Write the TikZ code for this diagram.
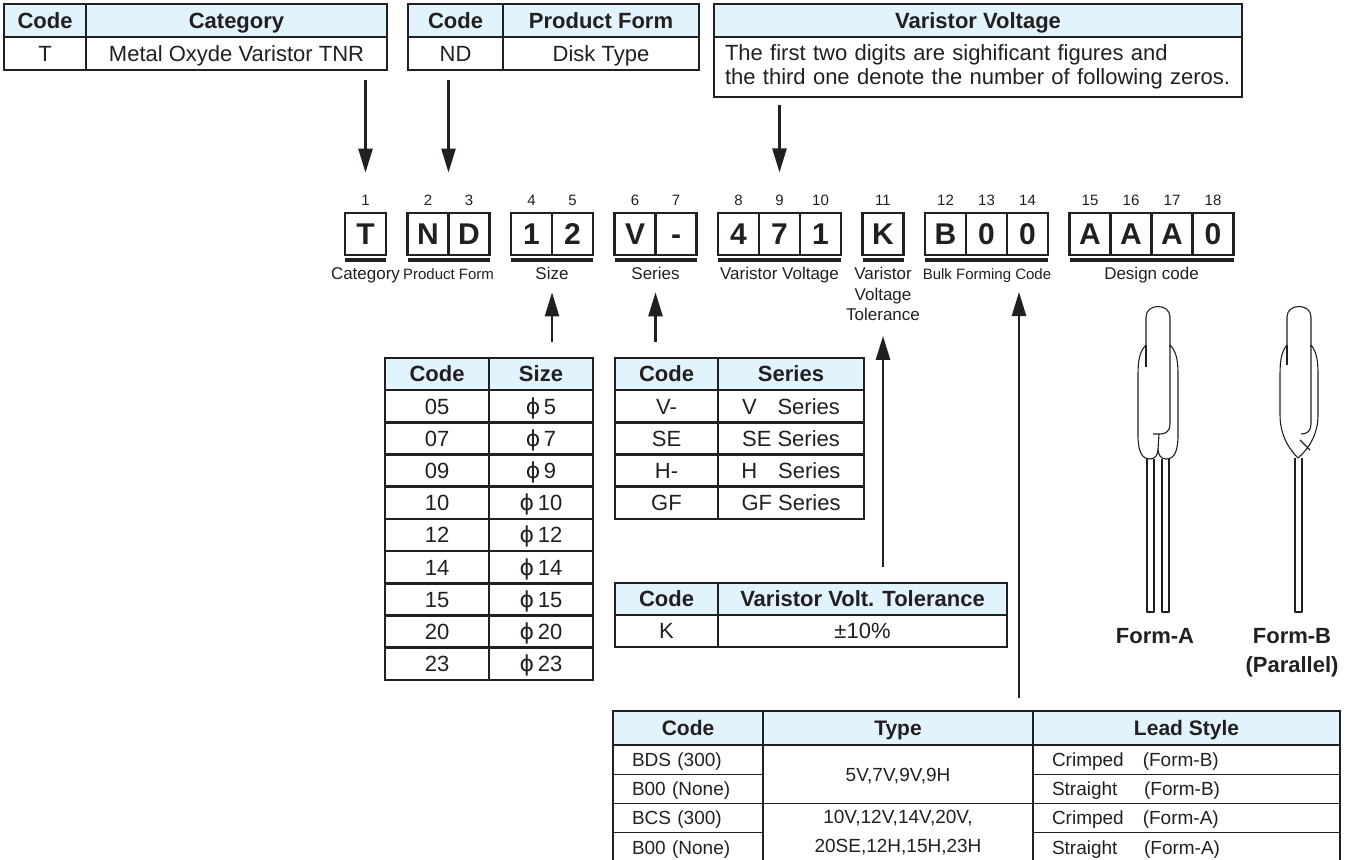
\documentclass[tikz,border=0pt]{standalone}
\usepackage{fontspec}
\setmainfont{Liberation Sans}
\newfontfamily\symfont{DejaVu Sans}
\usetikzlibrary{arrows.meta}
\definecolor{ink}{HTML}{231F20}
\definecolor{hdblue}{HTML}{E1F3FC}

\begin{document}
\begin{tikzpicture}[x=1pt,y=-1pt,color=ink,
    cell/.style={draw,line width=2.6pt,inner sep=0pt,outer sep=0pt,minimum height=32.2pt,text height=15.8pt,text depth=0pt,font=\fontsize{22}{24}\selectfont},
    head/.style={cell,fill=hdblue,font=\fontsize{22}{24}\selectfont\bfseries},
    lcell/.style={draw,line width=1.2pt,inner sep=0pt,outer sep=0pt,minimum height=29.25pt,text height=13.6pt,text depth=0pt,font=\fontsize{19}{29}\selectfont},
    lhead/.style={lcell,fill=hdblue,minimum height=34pt,text height=15pt,font=\fontsize{21}{24}\selectfont\bfseries},
    digit/.style={draw,line width=2.6pt,inner sep=0pt,outer sep=0pt,minimum width=41pt,minimum height=42pt,text height=21.5pt,text depth=0pt,font=\fontsize{30}{30}\selectfont\bfseries},
    num/.style={inner sep=0pt,font=\fontsize{15}{15}\selectfont},
    lbl/.style={inner sep=0pt,align=center,font=\fontsize{17}{20.5}\selectfont},
    sml/.style={inner sep=0pt,font=\fontsize{15}{17}\selectfont},
    bar/.style={line width=4pt},
    arr/.style={line width=2.5pt,-{Triangle[length=24pt,width=14pt]}},
    res/.style={line width=1.1pt,line join=round}]
  \useasboundingbox (0,0) rectangle (1359,859);

  % top tables
  \node[head,minimum width=82pt,minimum height=33pt] (catH1) at (45,20.5) {Code};
  \node[head,minimum width=301pt,minimum height=33pt] (catH2) at (236.5,20.5) {Category};
  \node[cell,minimum width=82pt,minimum height=33pt] (catB1) at (45,53.5) {T};
  \node[cell,minimum width=301pt,minimum height=33pt] (catB2) at (236.5,53.5) {Metal Oxyde Varistor TNR};

  \node[head,minimum width=95pt,minimum height=33pt] (pfH1) at (455.5,20.5) {Code};
  \node[head,minimum width=196pt,minimum height=33pt] (pfH2) at (601,20.5) {Product Form};
  \node[cell,minimum width=95pt,minimum height=33pt] (pfB1) at (455.5,53.5) {ND};
  \node[cell,minimum width=196pt,minimum height=33pt] (pfB2) at (601,53.5) {Disk Type};

  \node[head,minimum width=528pt,minimum height=33pt] (vvH) at (978,20.5) {Varistor Voltage};
  \node[cell,minimum height=60pt,text width=506pt,text height=,text depth=,inner xsep=11pt,align=left,font=\fontsize{22}{23.5}\selectfont] (vvB) at (978,67)
    {The first two digits are sighificant figures and\\the third one denote the number of following zeros.};

  % code boxes
  \foreach \ch/\x [count=\i] in {T/365.5,N/428,D/469,1/531.5,2/572.5,V/635,-/676,4/738.5,7/779.5,1/820.5,K/883,B/945.5,0/986.5,0/1027.5,A/1090,A/1131,A/1172,0/1213}
  {
    \node[digit] (d\i) at (\x,234) {\ch};
    \node[num] (n\i) at (\x,200) {\i};
  }
  \foreach \a/\b in {1/1,2/3,4/5,6/7,8/10,11/11,12/14,15/18}
    \draw[bar] ([yshift=-5pt]d\a.south west) -- ([yshift=-5pt]d\b.south east);

  \node[lbl,anchor=base] (catL) at (365.5,279) {Category};
  \node[sml,anchor=base] (pfL) at (448.5,279) {Product Form};
  \node[lbl,anchor=base] (szL) at (552,279) {Size};
  \node[lbl,anchor=base] (seL) at (655.5,279) {Series};
  \node[lbl,anchor=base] (vvL) at (779.5,279) {Varistor Voltage};
  \node[lbl,anchor=north] (tolL) at (883,267) {Varistor\\Voltage\\Tolerance};
  \node[sml,anchor=base] (bfL) at (987,279) {Bulk Forming Code};
  \node[lbl,anchor=base] (dcL) at (1151.5,279) {Design code};

  % size table
  \node[head,minimum width=104pt] (szH1) at (437,374) {Code};
  \node[head,minimum width=104pt] (szH2) at (541,374) {Size};
  \foreach \c/\d [count=\i] in {05/5,07/7,09/9,10/10,12/12,14/14,15/15,20/20,23/23}
  {
    \node[cell,minimum width=104pt] (szC\i) at (437,{374+32.2*\i}) {\c};
    \node[cell,minimum width=104pt] (szS\i) at (541,{374+32.2*\i}) {{\symfont ϕ}\,\d};
  }

  % series table
  \node[head,minimum width=103pt] (seH1) at (666.5,374) {Code};
  \node[head,minimum width=146pt] (seH2) at (791,374) {Series};
  \foreach \c/\s [count=\i] in {V-/V\hphantom{E} Series,SE/SE Series,H-/H\hphantom{E} Series,GF/GF Series}
  {
    \node[cell,minimum width=103pt] (seC\i) at (666.5,{374+32.2*\i}) {\c};
    \node[cell,minimum width=146pt] (seS\i) at (791,{374+32.2*\i}) {\s};
  }

  % tolerance table
  \node[head,minimum width=103pt] (tolH1) at (666.5,599) {Code};
  \node[head,minimum width=289pt] (tolH2) at (862.5,599) {Varistor Volt. Tolerance};
  \node[cell,minimum width=103pt] (tolB1) at (666.5,631) {K};
  \node[cell,minimum width=289pt] (tolB2) at (862.5,631) {±10\%};

  % bulk forming table
  \node[lhead,minimum width=150pt] (bcH1) at (688,728) {Code};
  \node[lhead,minimum width=270pt] (bcH2) at (898,728) {Type};
  \node[lhead,minimum width=307pt] (bcH3) at (1186.5,728) {Lead Style};
  \foreach \c/\l [count=\i] in {BDS (300)/Crimped\hspace{1em}(Form-B),B00 (None)/Straight\hspace{1.4em}(Form-B),BCS (300)/Crimped\hspace{1em}(Form-A),B00 (None)/Straight\hspace{1.4em}(Form-A)}
  {
    \node[lcell,minimum width=150pt,text width=112pt,inner xsep=19pt,align=left] (bcC\i) at (688,{730.4+29.25*\i}) {\c};
    \node[lcell,minimum width=307pt,text width=269pt,inner xsep=19pt,align=left] (bcL\i) at (1186.5,{730.4+29.25*\i}) {\l};
  }
  \node[lcell,minimum width=270pt,minimum height=58.5pt] (bcT1) at (898,774.25) {5V,7V,9V,9H};
  \node[lcell,minimum width=270pt,minimum height=58.5pt,text height=,text depth=,align=center] (bcT2) at (898,832.75) {10V,12V,14V,20V,\\20SE,12H,15H,23H};

  % arrows
  \draw[arr,shorten <=10pt,shorten >=22pt] (d1 |- catB2.south) -- (d1 |- n1.north);
  \draw[arr,shorten <=10pt,shorten >=22pt] (pfL |- pfB1.south) -- (pfL |- n2.north);
  \draw[arr,shorten <=8pt,shorten >=22pt] (vvL |- vvB.south) -- (vvL |- n8.north);
  \draw[arr,shorten <=16pt,shorten >=13pt] (szL |- szH2.north) -- (szL.south);
  \draw[arr,shorten <=16pt,shorten >=13pt] (seL |- seH2.north) -- (seL.south);
  \draw[arr,shorten <=16pt,shorten >=15pt] (tolL |- tolH2.north) -- (tolL.south);
  \coordinate (bfTip) at (1019,292);
  \draw[arr,shorten <=13pt] (bfTip |- bcH2.north) -- (bfTip);

  % form A
  \draw[res] (1146,347) -- (1146,317) .. controls (1146,303) and (1170,303) .. (1170,317) -- (1170,347);
  \draw[res] (1146,345) .. controls (1139,352) and (1138,362) .. (1138,375) -- (1138,435)
    .. controls (1138,452) and (1142,459) .. (1150,459) .. controls (1155,459) and (1158,455) .. (1158,449)
    .. controls (1158,455) and (1161,459) .. (1166,459) .. controls (1174,459) and (1178,452) .. (1178,435)
    -- (1178,375) .. controls (1178,362) and (1177,352) .. (1170,345);
  \draw[res] (1146,345) -- (1146,367);
  \draw[res] (1170,345) -- (1170,424) .. controls (1170,431) and (1166,434) .. (1160,434) -- (1153,434);
  \draw[res] (1159,434) -- (1158,449);
  \draw[res] (1147,459) -- (1147,612) -- (1154,612) -- (1154,459);
  \draw[res] (1162,459) -- (1162,612) -- (1169,612) -- (1169,459);
  \node[inner sep=0pt,font=\fontsize{22}{24}\selectfont\bfseries] (formA) at (1155,636) {Form-A};

  % form B
  \draw[res] (1287,347) -- (1287,317) .. controls (1287,303) and (1311,303) .. (1311,317) -- (1311,347);
  \draw[res] (1287,345) .. controls (1281,352) and (1280,362) .. (1280,375) -- (1280,415)
    .. controls (1280,438) and (1292,452) .. (1298,458) .. controls (1305,452) and (1318,438) .. (1318,415)
    -- (1318,375) .. controls (1318,362) and (1317,352) .. (1311,345);
  \draw[res] (1287,345) -- (1287,365);
  \draw[res] (1311,345) -- (1311,424) .. controls (1311,431) and (1307,434) .. (1301,434);
  \draw[res] (1300,440) -- (1310,450);
  \draw[res] (1295,458) -- (1295,612) -- (1302,612) -- (1302,458);
  \node[inner sep=0pt,align=center,font=\fontsize{22}{29}\selectfont\bfseries] (formB) at (1292,653) {Form-B\\(Parallel)};
\end{tikzpicture}
\end{document}
